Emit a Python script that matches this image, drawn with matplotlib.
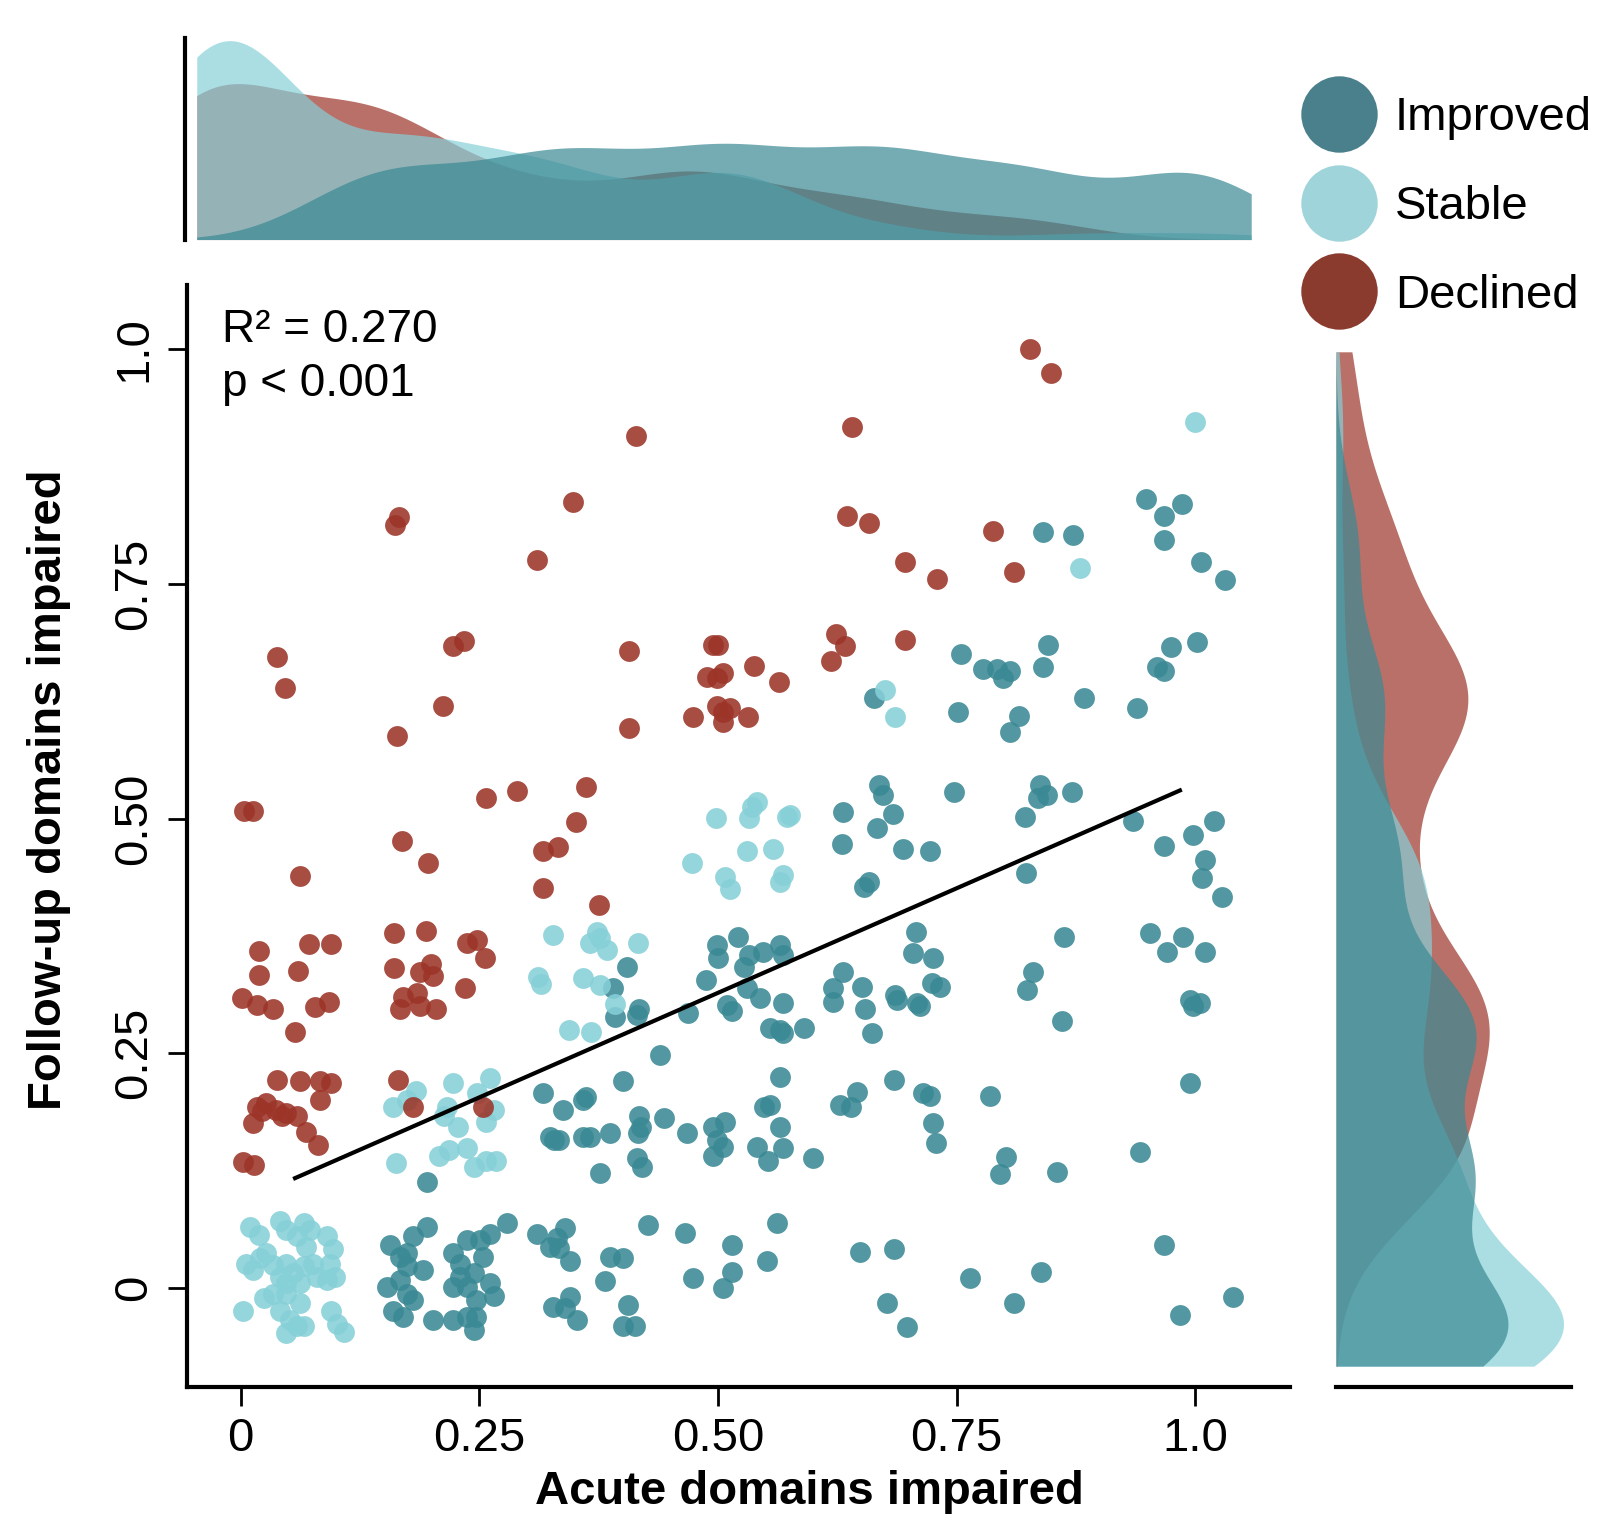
import numpy as np
import matplotlib
matplotlib.use("Agg")
import matplotlib.pyplot as plt
from matplotlib.lines import Line2D

plt.rcParams['font.family'] = ['Liberation Sans', 'DejaVu Sans']

# ---------------------------------------------------------------------------
# Data (fraction of domains impaired, jittered)
groups = ['Improved', 'Stable', 'Declined']

improved_x = [
    0.948, 0.967, 0.986, 0.967, 1.006, 1.031, 0.841, 0.872,
    0.755, 0.846, 0.841, 0.975, 1.002, 0.960, 0.967, 0.778, 0.792, 0.806, 0.799,
    0.752, 0.815, 0.806, 0.884, 0.939, 0.664,
    0.669, 0.673, 0.683, 0.667, 0.631, 0.630, 0.653, 0.658, 0.694, 0.722, 0.747,
    0.837, 0.845, 0.835, 0.871, 0.822, 0.935, 0.967, 0.998, 1.020, 1.010, 1.007,
    1.028, 0.823,
    0.708, 0.704, 0.725, 0.724, 0.733, 0.709, 0.863, 0.830, 0.824, 0.953, 0.987,
    0.970, 1.010, 0.995, 1.005,
    0.499, 0.500, 0.521, 0.533, 0.547, 0.565, 0.568, 0.488, 0.527, 0.530, 0.544,
    0.568, 0.510, 0.405, 0.621, 0.631, 0.651, 0.686, 0.390, 0.417,
    0.415, 0.469, 0.515, 0.555, 0.565, 0.568, 0.590, 0.654, 0.661, 0.688, 0.621,
    0.392, 0.712, 0.860, 0.998,
    0.439, 0.401, 0.565, 0.684, 0.548, 0.555, 0.565, 0.568, 0.541, 0.552, 0.600,
    0.628, 0.639, 0.646, 0.338, 0.359, 0.362, 0.324, 0.334, 0.359, 0.366, 0.387,
    0.376, 0.417, 0.419, 0.416, 0.444, 0.468, 0.415, 0.420, 0.495, 0.507, 0.499,
    0.505, 0.495,
    0.995, 0.715, 0.722, 0.785, 0.725, 0.728, 0.802, 0.796, 0.855, 0.942, 0.317,
    0.328, 0.195,
    0.340, 0.331, 0.334, 0.345, 0.427, 0.465, 0.515, 0.562, 0.551, 0.649, 0.684,
    0.387, 0.401, 0.382, 0.474, 0.515, 0.505, 0.345, 0.352, 0.340, 0.406, 0.401,
    0.413, 0.677, 0.698, 0.967, 0.764, 0.838, 0.810, 0.984, 1.040,
    0.310, 0.324, 0.327,
    0.157, 0.181, 0.195, 0.167, 0.174, 0.191, 0.153, 0.167, 0.174, 0.181, 0.160,
    0.170, 0.202, 0.223, 0.237, 0.251, 0.261, 0.279, 0.230, 0.244, 0.237, 0.223,
    0.261, 0.247, 0.265, 0.223, 0.237, 0.247, 0.244, 0.174, 0.230, 0.254,
]
improved_y = [
    0.840, 0.822, 0.835, 0.797, 0.773, 0.754, 0.805, 0.802,
    0.675, 0.685, 0.662, 0.683, 0.688, 0.662, 0.657, 0.659, 0.659, 0.657, 0.650,
    0.614, 0.609, 0.592, 0.629, 0.618, 0.629,
    0.536, 0.525, 0.505, 0.490, 0.507, 0.473, 0.427, 0.432, 0.468, 0.466, 0.528,
    0.536, 0.525, 0.522, 0.528, 0.502, 0.497, 0.471, 0.483, 0.497, 0.456, 0.437,
    0.417, 0.442,
    0.379, 0.357, 0.352, 0.325, 0.321, 0.304, 0.374, 0.337, 0.317, 0.378, 0.374,
    0.358, 0.358, 0.307, 0.304,
    0.365, 0.352, 0.374, 0.355, 0.358, 0.365, 0.355, 0.328, 0.342, 0.320, 0.309,
    0.304, 0.301, 0.342, 0.320, 0.337, 0.321, 0.312, 0.320, 0.297,
    0.291, 0.293, 0.295, 0.277, 0.275, 0.272, 0.277, 0.297, 0.272, 0.307, 0.305,
    0.289, 0.300, 0.284, 0.300,
    0.248, 0.220, 0.225, 0.222, 0.193, 0.195, 0.172, 0.149, 0.150, 0.135, 0.138,
    0.195, 0.193, 0.209, 0.190, 0.200, 0.203, 0.161, 0.158, 0.161, 0.161, 0.165,
    0.123, 0.183, 0.172, 0.165, 0.181, 0.165, 0.138, 0.129, 0.172, 0.177, 0.158,
    0.150, 0.141,
    0.218, 0.208, 0.205, 0.204, 0.176, 0.154, 0.140, 0.121, 0.124, 0.145, 0.208,
    0.158, 0.113,
    0.064, 0.053, 0.043, 0.029, 0.067, 0.059, 0.046, 0.069, 0.029, 0.038, 0.042,
    0.033, 0.032, 0.007, 0.011, 0.017, 0.000, -0.010, -0.034, -0.021, -0.018, -0.041,
    -0.041, -0.016, -0.042, 0.046, 0.011, 0.017, -0.016, -0.029, -0.010,
    0.058, 0.044, -0.020,
    0.046, 0.055, 0.065, 0.033, 0.023, 0.019, 0.001, 0.009, -0.006, -0.013, -0.024,
    -0.031, -0.034, 0.037, 0.051, 0.051, 0.058, 0.069, 0.026, 0.016, 0.001, 0.001,
    0.005, -0.013, -0.009, -0.034, -0.031, -0.031, -0.045, 0.037, 0.012, 0.033,
]

stable_x = [
    1.000, 0.879, 0.675, 0.686,
    0.498, 0.536, 0.541, 0.533, 0.572, 0.576, 0.530, 0.558, 0.473, 0.507, 0.513,
    0.568, 0.565,
    0.327, 0.373, 0.376, 0.366, 0.384, 0.416, 0.312, 0.315, 0.359, 0.376, 0.344,
    0.367, 0.392,
    0.160, 0.174, 0.222, 0.261, 0.216, 0.248, 0.265, 0.257, 0.228, 0.213, 0.163,
    0.208, 0.218, 0.237, 0.244, 0.257, 0.268, 0.184,
    0.010, 0.019, 0.041, 0.048, 0.066, 0.073, 0.059, 0.090, 0.097, 0.006, 0.020,
    0.013, 0.034, 0.048, 0.041, 0.055, 0.066, 0.076, 0.062, 0.048, 0.094, 0.099,
    0.090, 0.080, 0.024, 0.034, 0.048, 0.062, 0.041, 0.003, 0.052, 0.059, 0.048,
    0.066, 0.095, 0.101, 0.108, 0.027, 0.069,
]
stable_y = [
    0.923, 0.767, 0.637, 0.608,
    0.501, 0.512, 0.518, 0.501, 0.502, 0.504, 0.465, 0.468, 0.453, 0.438, 0.425,
    0.440, 0.432,
    0.376, 0.379, 0.373, 0.368, 0.360, 0.368, 0.331, 0.324, 0.330, 0.323, 0.275,
    0.273, 0.302,
    0.193, 0.200, 0.218, 0.224, 0.193, 0.208, 0.190, 0.177, 0.171, 0.183, 0.133,
    0.141, 0.147, 0.149, 0.129, 0.135, 0.135, 0.210,
    0.065, 0.056, 0.071, 0.062, 0.069, 0.062, 0.055, 0.055, 0.042, 0.026, 0.032,
    0.019, 0.025, 0.026, 0.012, 0.016, 0.023, 0.026, 0.005, 0.005, 0.026, 0.012,
    0.009, 0.012, -0.011, -0.006, -0.006, -0.016, -0.024, -0.025, -0.034, -0.040,
    -0.048, -0.041, -0.025, -0.038, -0.047, 0.037, 0.044,
]

declined_x = [
    0.827, 0.849, 0.414, 0.640, 0.348, 0.162, 0.166, 0.310, 0.635, 0.658, 0.788,
    0.696, 0.729, 0.810, 0.038, 0.046, 0.222, 0.234, 0.407, 0.495, 0.500, 0.489,
    0.499, 0.505, 0.538, 0.564, 0.624, 0.633, 0.618, 0.696, 0.164, 0.212, 0.407,
    0.474, 0.499, 0.505, 0.513, 0.505, 0.532, 0.004, 0.013, 0.257, 0.290, 0.362,
    0.351, 0.169, 0.196, 0.317, 0.333, 0.317, 0.375, 0.062, 0.019, 0.019, 0.072,
    0.095, 0.060, 0.001, 0.017, 0.034, 0.078, 0.093, 0.057, 0.161, 0.194, 0.161,
    0.188, 0.199, 0.202, 0.237, 0.248, 0.256, 0.235, 0.170, 0.185, 0.167, 0.188,
    0.205, 0.038, 0.062, 0.083, 0.095, 0.083, 0.017, 0.027, 0.037, 0.048, 0.059,
    0.013, 0.069, 0.081, 0.003, 0.014, 0.165, 0.181, 0.254, 0.022, 0.043,
]
declined_y = [
    1.000, 0.975, 0.908, 0.917, 0.837, 0.813, 0.821, 0.776, 0.822, 0.815, 0.806,
    0.773, 0.755, 0.763, 0.672, 0.639, 0.684, 0.689, 0.679, 0.685, 0.685, 0.651,
    0.650, 0.655, 0.663, 0.646, 0.697, 0.684, 0.668, 0.690, 0.588, 0.620, 0.597,
    0.608, 0.620, 0.614, 0.618, 0.603, 0.608, 0.508, 0.508, 0.522, 0.529, 0.534,
    0.496, 0.476, 0.453, 0.466, 0.470, 0.426, 0.408, 0.439, 0.359, 0.333, 0.366,
    0.366, 0.338, 0.309, 0.301, 0.297, 0.299, 0.305, 0.273, 0.378, 0.380, 0.341,
    0.337, 0.345, 0.332, 0.367, 0.371, 0.352, 0.320, 0.310, 0.314, 0.297, 0.300,
    0.297, 0.222, 0.220, 0.220, 0.218, 0.200, 0.193, 0.197, 0.190, 0.186, 0.183,
    0.176, 0.166, 0.152, 0.134, 0.131, 0.222, 0.193, 0.193, 0.188, 0.183,
]

# linear fit shown in the figure (endpoints)
fit_x = [0.057, 0.984]
fit_y = [0.117, 0.530]
r2_text = 'R\u00b2 = 0.270'
p_text = 'p < 0.001'

# span the marginal densities are evaluated over
x_range = (0.03, 1.04)
y_range = (-0.02, 1.0)
kde_adjust = 0.8

xticks = [0, 0.25, 0.5, 0.75, 1.0]
xticklabels = ['0', '0.25', '0.50', '0.75', '1.0']
yticks = [0, 0.25, 0.5, 0.75, 1.0]
yticklabels = ['0', '0.25', '0.50', '0.75', '1.0']

point_colors = {'Improved': '#3a8994', 'Stable': '#86d0d8', 'Declined': '#9c3428'}
legend_colors = {'Improved': '#4a7f8c', 'Stable': '#9fd4da', 'Declined': '#8b3a2e'}

data = {
    'Improved': (np.array(improved_x), np.array(improved_y)),
    'Stable': (np.array(stable_x), np.array(stable_y)),
    'Declined': (np.array(declined_x), np.array(declined_y)),
}


def kde(values, grid, adjust=1.0):
    """Gaussian kernel density with R's bw.nrd0 bandwidth."""
    n = len(values)
    sd = values.std(ddof=1)
    iqr = np.subtract(*np.percentile(values, [75, 25]))
    bw = adjust * 0.9 * min(sd, iqr / 1.34) * n ** -0.2
    z = (grid[:, None] - values[None, :]) / bw
    return np.exp(-0.5 * z ** 2).sum(axis=1) / (n * bw * np.sqrt(2 * np.pi))


###############################################################################
# Layout: scatter with marginal densities on top and to the right
fig = plt.figure(figsize=(15.99, 15.19), dpi=100)
ax = fig.add_axes([0.1167, 0.0872, 0.6901, 0.7249])
ax_top = fig.add_axes([0.1154, 0.8423, 0.6671, 0.1329])
ax_right = fig.add_axes([0.8355, 0.0872, 0.1467, 0.6812])

for name in groups:
    x, y = data[name]
    ax.scatter(x, y, s=225, color=point_colors[name], alpha=0.88,
               linewidths=0, zorder=2)

ax.plot(fit_x, fit_y, color='black', lw=3, zorder=3)

ax.text(-0.02, 1.008, r2_text, fontsize=33, va='baseline')
ax.text(-0.02, 0.950, p_text, fontsize=33, va='baseline')

ax.set_xlim(-0.0566, 1.0994)
ax.set_ylim(-0.105, 1.068)
ax.set_xticks(xticks)
ax.set_xticklabels(xticklabels)
ax.set_yticks(yticks)
ax.set_yticklabels(yticklabels, rotation=90, va='center')
ax.tick_params(labelsize=34, length=14, width=2, pad=8)
for side in ['top', 'right']:
    ax.spines[side].set_visible(False)
for side in ['left', 'bottom']:
    ax.spines[side].set_linewidth(3)

fig.text(0.506, 0.010, 'Acute domains impaired', fontsize=34,
         fontweight='bold', ha='center', va='baseline')
fig.text(0.0306, 0.480, 'Follow-up domains impaired', fontsize=34,
         fontweight='bold', ha='center', va='center', rotation=90)

draw_order = ['Declined', 'Stable', 'Improved']

# top marginal: density of acute domains
gx = np.linspace(x_range[0], x_range[1], 500)
top_max = 0
for name in draw_order:
    d = kde(data[name][0], gx, kde_adjust)
    top_max = max(top_max, d.max())
    ax_top.fill_between(gx, 0, d, color=point_colors[name], alpha=0.7, lw=0)
x_pad = 12 / 1034 * (x_range[1] - x_range[0])
ax_top.set_xlim(x_range[0] - x_pad, x_range[1])
ax_top.set_ylim(0, top_max * 1.015)
for side in ['top', 'right', 'bottom']:
    ax_top.spines[side].set_visible(False)
ax_top.spines['left'].set_linewidth(3)
ax_top.tick_params(left=False, bottom=False, labelleft=False, labelbottom=False)

# right marginal: density of follow-up domains
gy = np.linspace(y_range[0], y_range[1], 500)
right_max = 0
for name in draw_order:
    d = kde(data[name][1], gy, kde_adjust)
    right_max = max(right_max, d.max())
    ax_right.fill_betweenx(gy, 0, d, color=point_colors[name], alpha=0.7, lw=0)
y_pad = 20 / 995 * (y_range[1] - y_range[0])
ax_right.set_ylim(y_range[0] - y_pad, y_range[1])
ax_right.set_xlim(0, right_max / 0.97)
for side in ['top', 'right', 'left']:
    ax_right.spines[side].set_visible(False)
ax_right.spines['bottom'].set_linewidth(3)
ax_right.tick_params(left=False, bottom=False, labelleft=False, labelbottom=False)

handles = [Line2D([], [], marker='o', ls='none', markersize=55,
                  markerfacecolor=legend_colors[n], markeredgewidth=0)
           for n in groups]
fig.legend(handles, groups, loc='upper left', bbox_to_anchor=(0.791, 0.9615),
           frameon=False, fontsize=34, labelspacing=0.95, handlelength=1.55,
           handletextpad=0.4, borderpad=0.3)

fig.savefig('out.png', dpi=100)
